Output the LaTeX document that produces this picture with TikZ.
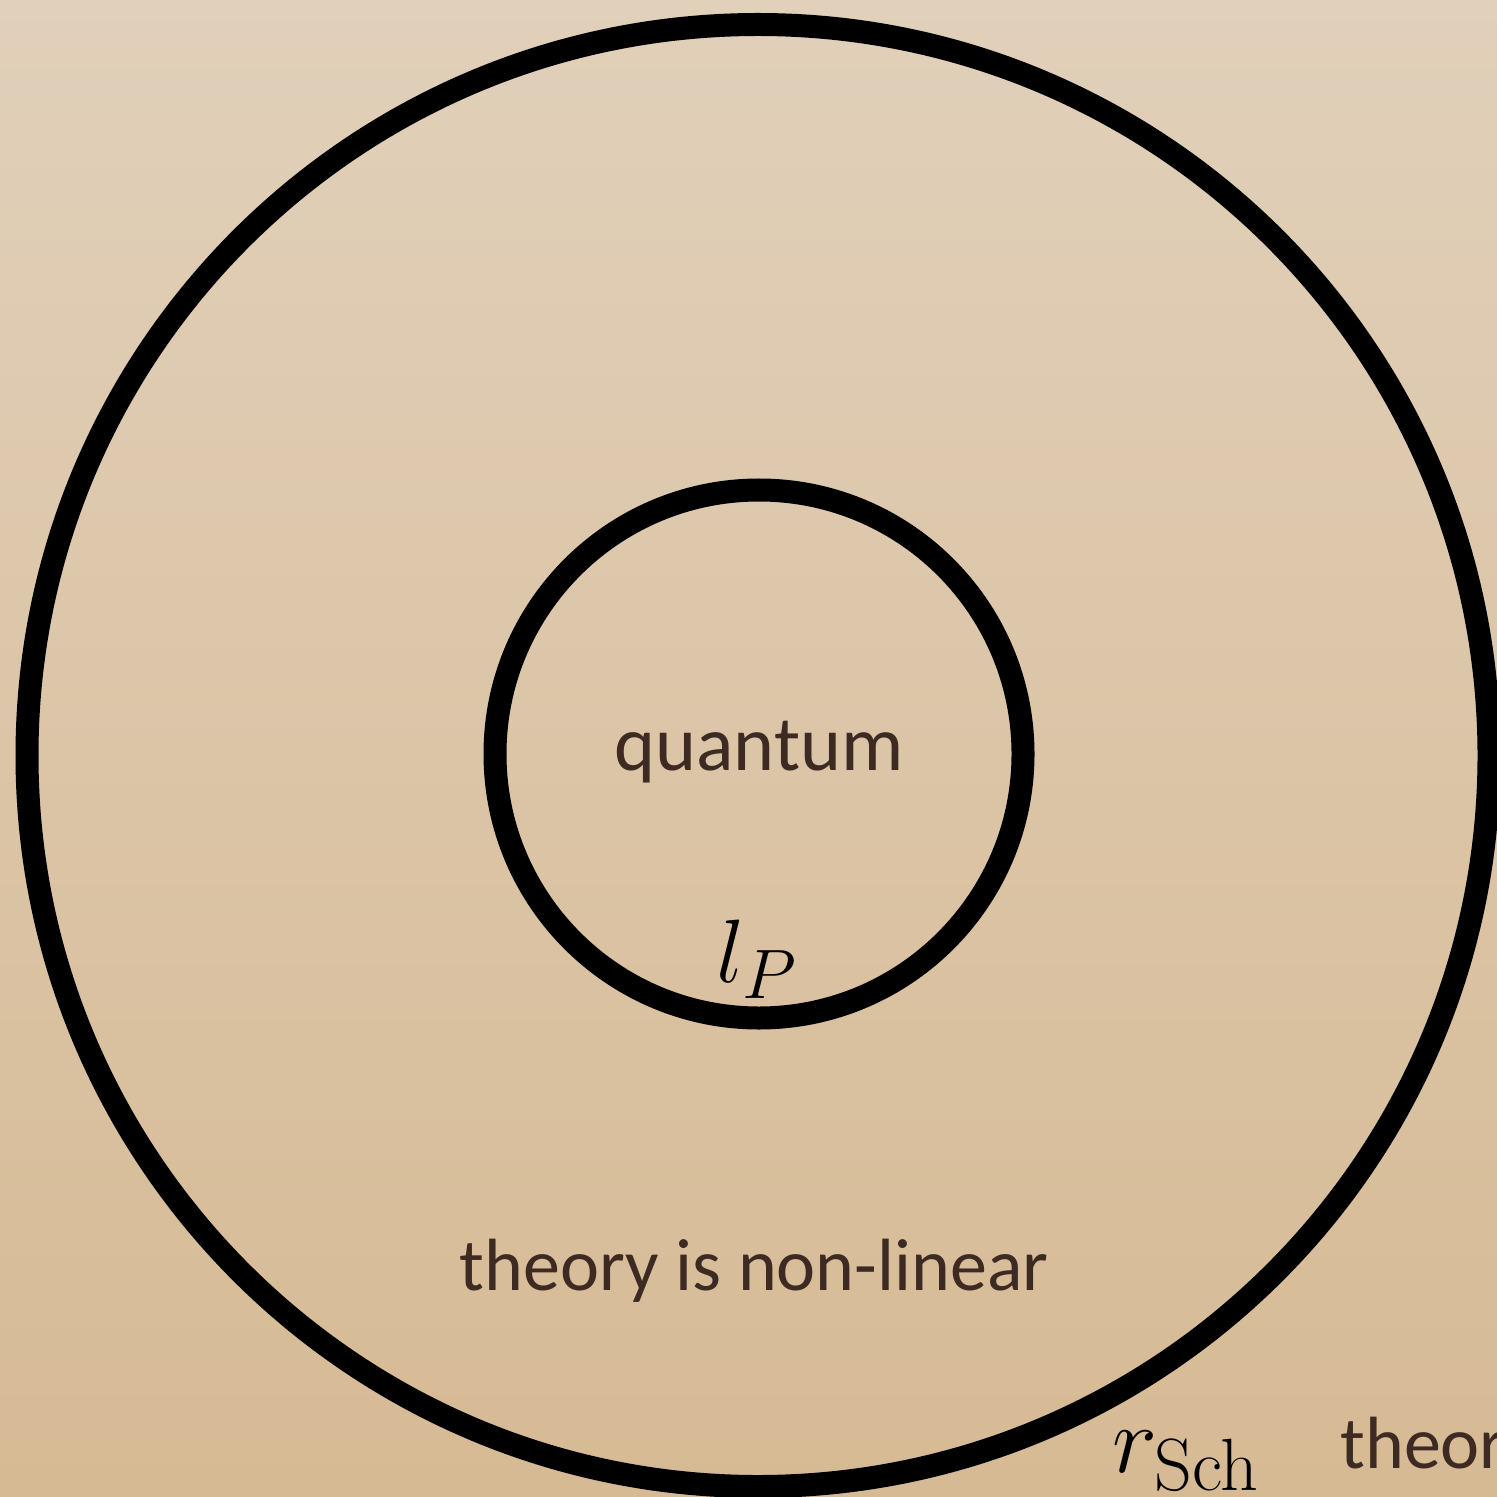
\documentclass[tikz,border=0pt]{standalone}
\usepackage{fix-cm}
\usepackage[no-math]{fontspec}
\setmainfont{Carlito}
\DeclareMathSizes{45}{45}{35}{25}
\DeclareMathSizes{48}{48}{37}{27}
\definecolor{bgtop}{HTML}{E1D0BA}
\definecolor{bgmid}{HTML}{DCC9AF}
\definecolor{bgbot}{HTML}{D6BA94}
\definecolor{ink}{HTML}{3D2A22}
\tikzset{
  ring/.style={draw=black, line width=11.5pt},
  label/.style={text=ink, inner sep=0pt, font=\fontsize{37}{44}\selectfont},
  mathlabel/.style={text=black, inner sep=0pt},
}
\begin{document}
\begin{tikzpicture}[x=0.5pt,y=0.5pt]
  \useasboundingbox (0,0) rectangle (1497,1496);
  \shade[top color=bgtop, middle color=bgmid, bottom color=bgbot] (0,0) rectangle (1497,1496);
  % outer circle (Schwarzschild radius)
  \draw[ring] (758,740.5) circle[radius=731];
  % inner circle (Planck length)
  \draw[ring] (759,742) circle[radius=264];
  \node[label, anchor=base, font=\fontsize{39}{46}\selectfont] (quantum) at (759,726) {quantum};
  \node[label, anchor=base] (nonlinear) at (754,206) {theory is non-linear};
  \node[label, anchor=base west] (linear) at (1340,28) {theory};
  \node[mathlabel, anchor=base, font=\fontsize{45}{52}\selectfont] (lp) at (757,514) {$l_P$};
  \node[mathlabel, anchor=base west, font=\fontsize{48}{56}\selectfont] (rsch) at (1112,24) {$r_{\mathrm{Sch}}$};
\end{tikzpicture}
\end{document}
